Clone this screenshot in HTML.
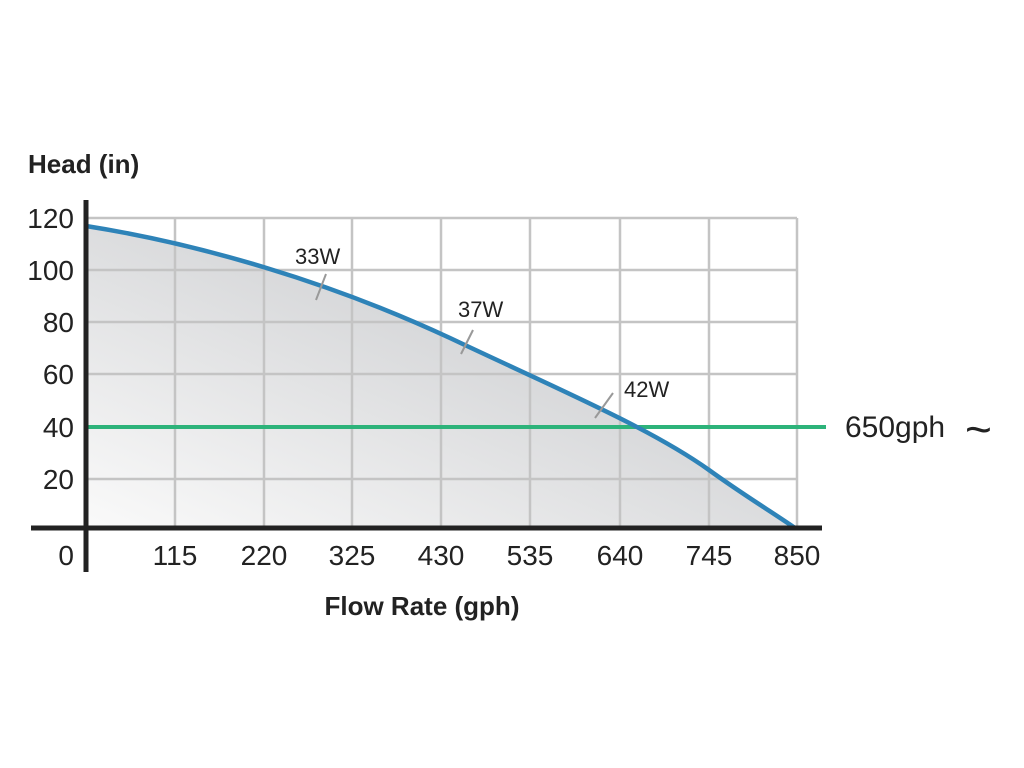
<!DOCTYPE html>
<html><head><style>body{margin:0;background:#fff;}svg{display:block}</style></head><body>
<svg width="1024" height="768" xmlns="http://www.w3.org/2000/svg" font-family="Liberation Sans, sans-serif">
<defs><linearGradient id="g" x1="0" y1="1" x2="1" y2="0"><stop offset="0" stop-color="#fafafa"/><stop offset="0.6" stop-color="#d6d7d9"/><stop offset="1" stop-color="#cfd0d3"/></linearGradient></defs>
<path d="M86,226 C200,244 330,282 450,338 C560,390 650,428 709,470 C745,496 772,512 795,528 L86,528 Z" fill="url(#g)"/>
<g stroke="#c4c4c4" stroke-width="2.5" fill="none">
<path d="M86,218H797M86,270H797M86,322H797M86,374H797M86,479H797"/>
<path d="M175,218V528M264,218V528M352,218V528M441,218V528M530,218V528M620,218V528M709,218V528M797,218V528"/>
</g>
<line x1="86" y1="427" x2="826" y2="427" stroke="#2db37a" stroke-width="4"/>
<path d="M86,226 C200,244 330,282 450,338 C560,390 650,428 709,470 C745,496 772,512 795,528" fill="none" stroke="#2e83b8" stroke-width="4.5"/>
<g stroke="#999" stroke-width="2"><line x1="316" y1="300" x2="326" y2="274"/><line x1="461" y1="354" x2="473" y2="330"/><line x1="595" y1="418" x2="613" y2="393"/></g>
<line x1="86" y1="200" x2="86" y2="572" stroke="#222" stroke-width="5"/>
<line x1="31" y1="528" x2="822" y2="528" stroke="#222" stroke-width="5"/>
<g font-size="28" fill="#222" text-anchor="end">
<text x="74" y="228">120</text><text x="74" y="280">100</text><text x="74" y="332">80</text><text x="74" y="384">60</text><text x="74" y="437">40</text><text x="74" y="489">20</text><text x="74" y="565">0</text></g>
<g font-size="28" fill="#222" text-anchor="middle">
<text x="175" y="565">115</text><text x="264" y="565">220</text><text x="352" y="565">325</text><text x="441" y="565">430</text><text x="530" y="565">535</text><text x="620" y="565">640</text><text x="709" y="565">745</text><text x="797" y="565">850</text></g>
<g font-size="22" fill="#222"><text x="295" y="264">33W</text><text x="458" y="317">37W</text><text x="624" y="397">42W</text></g>
<text x="845" y="437" font-size="30" fill="#222">650gph</text>
<text x="965" y="445" font-size="46" fill="#222">~</text>
<text x="28" y="173" font-size="26" font-weight="bold" fill="#222">Head (in)</text>
<text x="422" y="615" font-size="26" font-weight="bold" fill="#222" text-anchor="middle">Flow Rate (gph)</text>
</svg>
</body></html>
